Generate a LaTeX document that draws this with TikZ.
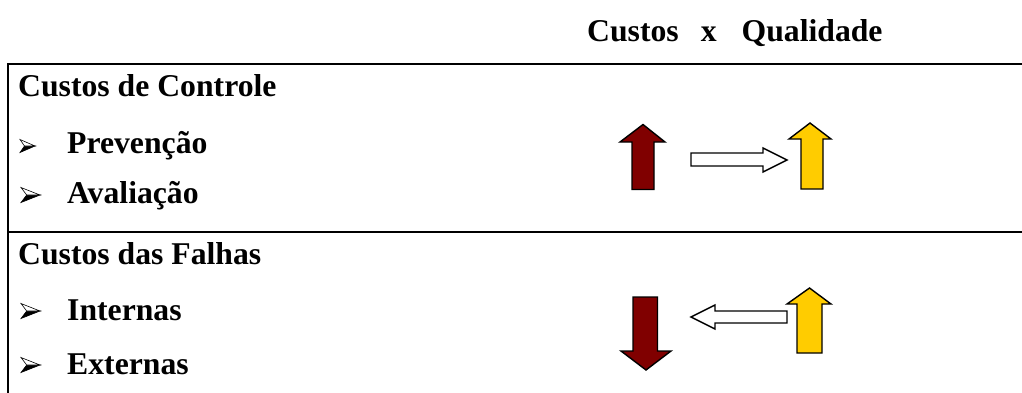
\documentclass[tikz,border=0pt]{standalone}
\usepackage{fontspec}
\setmainfont{Liberation Serif}
\definecolor{costred}{HTML}{800000}
\definecolor{qualyellow}{HTML}{FFCC00}
\begin{document}
\begin{tikzpicture}[x=1pt,y=-1pt,
  rule/.style={line width=2.2pt,line cap=rect},
  blockarrow/.style={draw=black,line width=1.4pt,line join=miter},
  label/.style={inner sep=0pt,anchor=base west,font=\fontsize{31.7}{38}\selectfont\bfseries},
  arrowbullet/.pic={
    \filldraw[black,line width=0.6pt,line join=miter] (0.3,0) -- (1,0) -- (0,0.5) -- cycle;
    \filldraw[draw=black,fill=white,line width=0.6pt,line join=miter] (0,-0.5) -- (1,0) -- (0.3,0) -- cycle;
  }]
\useasboundingbox (0,0) rectangle (1022,392);

% table rules
\coordinate (tl) at (8,64);
\coordinate (tr) at (1022,64);
\coordinate (ml) at (8,232);
\coordinate (mr) at (1022,232);
\coordinate (bl) at (8,392);
\draw[rule] (tr) -- (tl) -- (bl);
\draw[rule] (ml) -- (mr);

% headings and items
\node[label] (title) at (587,41) {Custos\hspace{22pt}x\hspace{25pt}Qualidade};
\node[label] (ctrl) at (18,96) {Custos de Controle};
\node[label] (prev) at (67,153) {Prevenção};
\node[label] (aval) at (67,203) {Avaliação};
\node[label] (fail) at (18,264) {Custos das Falhas};
\node[label] (intn) at (67,320) {Internas};
\node[label] (extn) at (67,374) {Externas};

% bullets
\pic[xscale=15,yscale=13] at (20,146) {arrowbullet};
\pic[xscale=19,yscale=15] at (21,195) {arrowbullet};
\pic[xscale=19,yscale=15] at (21,311) {arrowbullet};
\pic[xscale=19,yscale=15] at (21,365) {arrowbullet};

% control costs: cost up, leads to quality up
\draw[blockarrow,fill=costred]
  (643,124.5) -- (665,142) -- (654,142) -- (654,189.5) -- (632,189.5) -- (632,142) -- (620,142) -- cycle;
\draw[blockarrow,fill=white]
  (691,153) -- (763,153) -- (763,148) -- (787,160) -- (763,172) -- (763,166) -- (691,166) -- cycle;
\draw[blockarrow,fill=qualyellow]
  (810,123) -- (831,139) -- (823,139) -- (823,189) -- (801,189) -- (801,139) -- (789,139) -- cycle;

% failure costs: quality up, leads to cost down
\draw[blockarrow,fill=costred]
  (633,297) -- (657.5,297) -- (657.5,351) -- (671,351) -- (646,370) -- (621,351) -- (633,351) -- cycle;
\draw[blockarrow,fill=white]
  (787,311) -- (715,311) -- (715,305) -- (691,317) -- (715,329) -- (715,323) -- (787,323) -- cycle;
\draw[blockarrow,fill=qualyellow]
  (809.5,288) -- (831,304) -- (822,304) -- (822,353) -- (797,353) -- (797,304) -- (787,304) -- cycle;
\end{tikzpicture}
\end{document}
